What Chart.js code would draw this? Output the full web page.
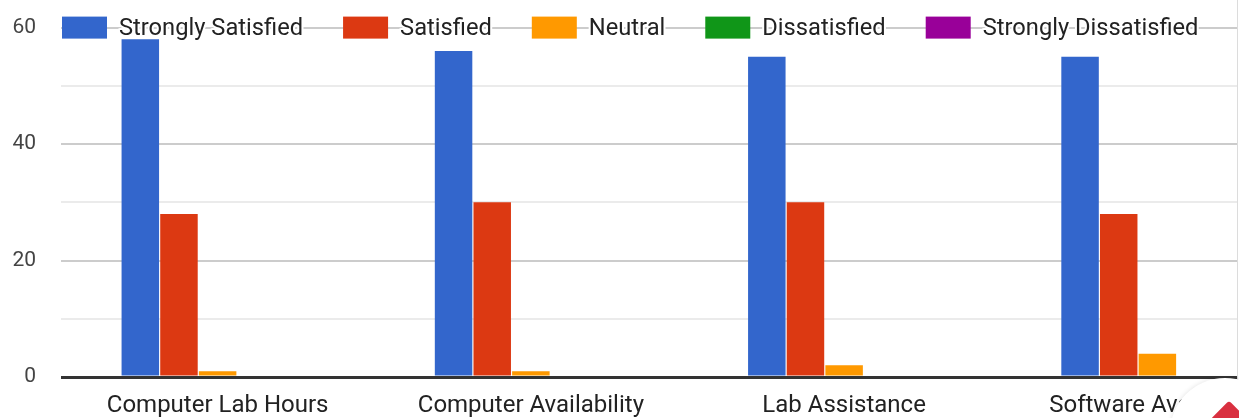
<!DOCTYPE html>
<html>
<head>
<meta charset="utf-8">
<title>Satisfaction survey</title>
<script src="https://cdn.jsdelivr.net/npm/chart.js@4.4.1/dist/chart.umd.min.js"></script>
<style>
    html, body { margin: 0; padding: 0; background: #fff; overflow: hidden; }
    #clip { position: absolute; left: 0; top: 0; width: 1237px; height: 418px; overflow: hidden; border-right: 1px solid #dcdcdc; }
    #wrap { position: absolute; left: 0; top: -10px; width: 1316px; height: 428px; }
    #fab { position: absolute; left: 1170px; top: 378px; width: 110px; height: 110px; border-radius: 50%; background: #fff; box-shadow: 0 0 5px rgba(0,0,0,0.12); }
    #fab span { position: absolute; left: 46px; top: 28px; width: 26px; height: 26px; background: #d93040; transform: rotate(45deg); border-radius: 3px; }
</style>
</head>
<body>
<div id="clip">
    <div id="wrap"><canvas id="surveyChart"></canvas></div>
</div>
<div id="fab"><span></span></div>
<script>
// data
const categories = ['Computer Lab Hours', 'Computer Availability', 'Lab Assistance', 'Software Availability'];
const stronglySatisfied = [58, 56, 55, 55];
const satisfied = [28, 30, 30, 28];
const neutral = [1, 1, 2, 4];
const dissatisfied = [0, 0, 0, 0];
const stronglyDissatisfied = [0, 0, 0, 0];
const yTicks = [0, 20, 40, 60];

const FONT = 'Roboto, Arial, sans-serif';

// legend sits on top of the 60 gridline, like the original
const lineLegend = {
    id: 'lineLegend',
    afterDraw(chart) {
        const ctx = chart.ctx;
        const y = chart.scales.y.getPixelForValue(60);
        let x = 62;
        ctx.save();
        ctx.font = '23.7px ' + FONT;
        ctx.textBaseline = 'middle';
        ctx.lineJoin = 'round';
        chart.data.datasets.forEach(ds => {
            ctx.fillStyle = ds.backgroundColor;
            ctx.fillRect(x, y - 11, 45, 22);
            x += 57;
            ctx.strokeStyle = '#fff';
            ctx.lineWidth = 4;
            ctx.strokeText(ds.label, x, y + 1);
            ctx.fillStyle = '#222';
            ctx.fillText(ds.label, x, y + 1);
            x += ctx.measureText(ds.label).width + 40;
        });
        ctx.restore();
    }
};

document.addEventListener('DOMContentLoaded', () => {
    const ctx = document.getElementById('surveyChart').getContext('2d');
    const surveyChart = new Chart(ctx, {
        type: 'bar',
        data: {
            labels: categories,
            datasets: [
                { label: 'Strongly Satisfied', data: stronglySatisfied, backgroundColor: '#3366cc' },
                { label: 'Satisfied', data: satisfied, backgroundColor: '#dc3912' },
                { label: 'Neutral', data: neutral, backgroundColor: '#ff9900' },
                { label: 'Dissatisfied', data: dissatisfied, backgroundColor: '#109618' },
                { label: 'Strongly Dissatisfied', data: stronglyDissatisfied, backgroundColor: '#990099' }
            ]
        },
        options: {
            responsive: true,
            maintainAspectRatio: false,
            animation: false,
            layout: { padding: { top: 0, right: 2, left: 0, bottom: 0 } },
            datasets: {
                bar: { categoryPercentage: 0.617, barPercentage: 0.97 }
            },
            plugins: {
                legend: { display: false },
                tooltip: { enabled: false }
            },
            scales: {
                x: {
                    grid: { display: false, drawTicks: false },
                    border: { display: false },
                    ticks: {
                        color: '#222',
                        font: { family: FONT, size: 24 },
                        padding: 15,
                        maxRotation: 0,
                        autoSkip: false
                    },
                    afterFit: s => { s.height = 41; }
                },
                y: {
                    min: 0,
                    max: 60,
                    grid: {
                        drawTicks: false,
                        color: c => c.tick.value === 0 ? '#333' : (yTicks.includes(c.tick.value) ? '#cccccc' : '#ebebeb'),
                        lineWidth: c => c.tick.value === 0 ? 3 : 2
                    },
                    border: { display: false },
                    ticks: {
                        stepSize: 10,
                        color: '#444',
                        font: { family: FONT, size: 21 },
                        padding: 25,
                        callback: v => yTicks.includes(v) ? v : ''
                    },
                    afterFit: s => { s.width = 61; }
                }
            }
        },
        plugins: [lineLegend]
    });
});
</script>
</body>
</html>
